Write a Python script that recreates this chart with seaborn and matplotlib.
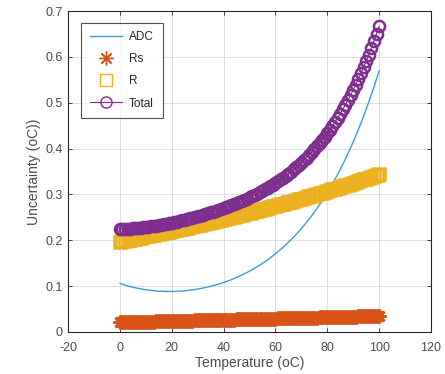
import matplotlib
matplotlib.use("Agg")
import matplotlib.pyplot as plt
import seaborn as sns
import pandas as pd

temperature = list(range(0, 101))

adc = [0.1060, 0.1041, 0.1023, 0.1007, 0.0991, 0.0977, 0.0964, 0.0952, 0.0941, 0.0931,
       0.0922, 0.0914, 0.0907, 0.0901, 0.0895, 0.0891, 0.0888, 0.0886, 0.0884, 0.0884,
       0.0884, 0.0885, 0.0888, 0.0891, 0.0894, 0.0899, 0.0905, 0.0911, 0.0919, 0.0927,
       0.0936, 0.0947, 0.0958, 0.0969, 0.0982, 0.0996, 0.1011, 0.1027, 0.1043, 0.1061,
       0.1080, 0.1100, 0.1120, 0.1142, 0.1165, 0.1189, 0.1214, 0.1241, 0.1269, 0.1297,
       0.1327, 0.1359, 0.1392, 0.1426, 0.1461, 0.1498, 0.1536, 0.1576, 0.1618, 0.1661,
       0.1706, 0.1752, 0.1800, 0.1850, 0.1902, 0.1956, 0.2012, 0.2069, 0.2129, 0.2191,
       0.2256, 0.2323, 0.2392, 0.2463, 0.2537, 0.2614, 0.2693, 0.2776, 0.2861, 0.2949,
       0.3040, 0.3134, 0.3232, 0.3333, 0.3438, 0.3546, 0.3658, 0.3774, 0.3894, 0.4019,
       0.4147, 0.4280, 0.4417, 0.4560, 0.4707, 0.4859, 0.5016, 0.5179, 0.5348, 0.5522,
       0.5702]

rs = [0.0210, 0.0211, 0.0213, 0.0214, 0.0216, 0.0217, 0.0218, 0.0220, 0.0221, 0.0223,
      0.0224, 0.0225, 0.0227, 0.0228, 0.0230, 0.0231, 0.0232, 0.0234, 0.0235, 0.0237,
      0.0238, 0.0239, 0.0241, 0.0242, 0.0244, 0.0245, 0.0246, 0.0248, 0.0249, 0.0251,
      0.0252, 0.0253, 0.0255, 0.0256, 0.0258, 0.0259, 0.0260, 0.0262, 0.0263, 0.0265,
      0.0266, 0.0267, 0.0269, 0.0270, 0.0272, 0.0273, 0.0274, 0.0276, 0.0277, 0.0279,
      0.0280, 0.0281, 0.0283, 0.0284, 0.0286, 0.0287, 0.0288, 0.0290, 0.0291, 0.0293,
      0.0294, 0.0295, 0.0297, 0.0298, 0.0300, 0.0301, 0.0302, 0.0304, 0.0305, 0.0307,
      0.0308, 0.0309, 0.0311, 0.0312, 0.0314, 0.0315, 0.0316, 0.0318, 0.0319, 0.0321,
      0.0322, 0.0323, 0.0325, 0.0326, 0.0328, 0.0329, 0.0330, 0.0332, 0.0333, 0.0335,
      0.0336, 0.0337, 0.0339, 0.0340, 0.0342, 0.0343, 0.0344, 0.0346, 0.0347, 0.0349,
      0.0350]

r = [0.1970, 0.1981, 0.1992, 0.2004, 0.2015, 0.2026, 0.2037, 0.2049, 0.2060, 0.2072,
     0.2083, 0.2095, 0.2107, 0.2118, 0.2130, 0.2142, 0.2154, 0.2166, 0.2178, 0.2190,
     0.2202, 0.2214, 0.2227, 0.2239, 0.2252, 0.2264, 0.2277, 0.2290, 0.2302, 0.2315,
     0.2328, 0.2341, 0.2354, 0.2368, 0.2381, 0.2394, 0.2408, 0.2421, 0.2435, 0.2448,
     0.2462, 0.2476, 0.2490, 0.2503, 0.2517, 0.2531, 0.2545, 0.2560, 0.2574, 0.2589,
     0.2603, 0.2618, 0.2632, 0.2647, 0.2661, 0.2676, 0.2691, 0.2706, 0.2722, 0.2737,
     0.2752, 0.2767, 0.2783, 0.2798, 0.2814, 0.2829, 0.2845, 0.2861, 0.2877, 0.2893,
     0.2909, 0.2926, 0.2942, 0.2959, 0.2975, 0.2992, 0.3009, 0.3026, 0.3042, 0.3059,
     0.3076, 0.3093, 0.3111, 0.3128, 0.3146, 0.3163, 0.3181, 0.3199, 0.3216, 0.3234,
     0.3252, 0.3270, 0.3289, 0.3307, 0.3326, 0.3344, 0.3363, 0.3382, 0.3400, 0.3419,
     0.3438]

total = [0.2247, 0.2248, 0.2250, 0.2253, 0.2256, 0.2260, 0.2264, 0.2270, 0.2275, 0.2282,
         0.2289, 0.2297, 0.2305, 0.2313, 0.2322, 0.2331, 0.2341, 0.2352, 0.2362, 0.2373,
         0.2385, 0.2396, 0.2409, 0.2422, 0.2435, 0.2448, 0.2463, 0.2477, 0.2491, 0.2506,
         0.2522, 0.2538, 0.2554, 0.2572, 0.2589, 0.2606, 0.2625, 0.2643, 0.2662, 0.2681,
         0.2701, 0.2722, 0.2744, 0.2765, 0.2787, 0.2810, 0.2833, 0.2858, 0.2883, 0.2909,
         0.2935, 0.2963, 0.2991, 0.3020, 0.3049, 0.3080, 0.3112, 0.3145, 0.3180, 0.3215,
         0.3251, 0.3288, 0.3328, 0.3368, 0.3410, 0.3452, 0.3497, 0.3544, 0.3592, 0.3642,
         0.3694, 0.3749, 0.3804, 0.3863, 0.3923, 0.3986, 0.4051, 0.4118, 0.4188, 0.4261,
         0.4337, 0.4415, 0.4498, 0.4583, 0.4672, 0.4763, 0.4859, 0.4959, 0.5062, 0.5169,
         0.5281, 0.5397, 0.5518, 0.5643, 0.5773, 0.5908, 0.6049, 0.6195, 0.6347, 0.6504,
         0.6668]

series_names = ["ADC", "Rs", "R", "Total"]
x_ticks = [-20, 0, 20, 40, 60, 80, 100, 120]
y_ticks = [0, 0.1, 0.2, 0.3, 0.4, 0.5, 0.6, 0.7]
y_tick_labels = ["0", "0.1", "0.2", "0.3", "0.4", "0.5", "0.6", "0.7"]

df = pd.DataFrame({"T": temperature, "ADC": adc, "Rs": rs, "R": r, "Total": total})

sns.set_style("white")
plt.rcParams["font.family"] = ["Liberation Sans", "DejaVu Sans"]
plt.rcParams["axes.unicode_minus"] = False

fig = plt.figure(figsize=(4.45, 3.74), dpi=100)
ax = fig.add_axes([68 / 445, 1 - 332 / 374, (431 - 68) / 445, (332 - 11) / 374])

c_adc = "#3D9AD9"
c_rs = "#D95319"
c_r = "#EDB120"
c_tot = "#7E2F8E"

sns.lineplot(data=df, x="T", y="ADC", ax=ax, color=c_adc, linewidth=1.0,
             label=series_names[0], estimator=None, zorder=2)
sns.lineplot(data=df, x="T", y="Rs", ax=ax, color=c_rs, linestyle="none",
             marker=(8, 2, 0), markersize=10, markeredgewidth=2.0,
             markeredgecolor=c_rs, label=series_names[1], estimator=None, zorder=3)
sns.lineplot(data=df, x="T", y="R", ax=ax, color=c_r, linestyle="none",
             marker="s", markersize=8.3, markerfacecolor="none", markeredgewidth=1.8,
             markeredgecolor=c_r, label=series_names[2], estimator=None, zorder=4)
sns.lineplot(data=df, x="T", y="Total", ax=ax, color=c_tot, linewidth=0.8,
             marker="o", markersize=8, markerfacecolor="none", markeredgewidth=1.8,
             markeredgecolor=c_tot, label=series_names[3], estimator=None, zorder=5)

ax.set_xlim(-20, 120)
ax.set_ylim(0, 0.7)
ax.set_xticks(x_ticks)
ax.set_yticks(y_ticks)
ax.set_yticklabels(y_tick_labels)
ax.grid(True, color="#DFDFDF", linewidth=0.7)
ax.set_axisbelow(True)

for side in ["left", "right", "top", "bottom"]:
    ax.spines[side].set_visible(True)
    ax.spines[side].set_color("#262626")
    ax.spines[side].set_linewidth(0.8)

ax.tick_params(direction="in", length=3, width=0.6, colors="#262626",
               labelsize=9, top=True, right=True, bottom=True, left=True,
               labelcolor="#4D4D4D")
ax.tick_params(axis="x", pad=7)
ax.tick_params(axis="y", pad=4)

ax.set_xlabel("Temperature (oC)", fontsize=10, color="#4D4D4D", labelpad=2)
ax.set_ylabel("Uncertainty (oC))", fontsize=10, color="#4D4D4D", labelpad=3)

leg = ax.legend(loc="upper left", bbox_to_anchor=(0.036, 0.964), borderaxespad=0,
                fontsize=8.5, frameon=True, fancybox=False, edgecolor="#262626",
                handlelength=2.7, labelspacing=0.85, borderpad=0.75, handletextpad=0.6)
leg.get_frame().set_linewidth(0.8)
for t in leg.get_texts():
    t.set_color("#262626")
for h in leg.legend_handles:
    h.set_markeredgewidth(1.0)

fig.savefig("out.png", dpi=100, facecolor="white")
